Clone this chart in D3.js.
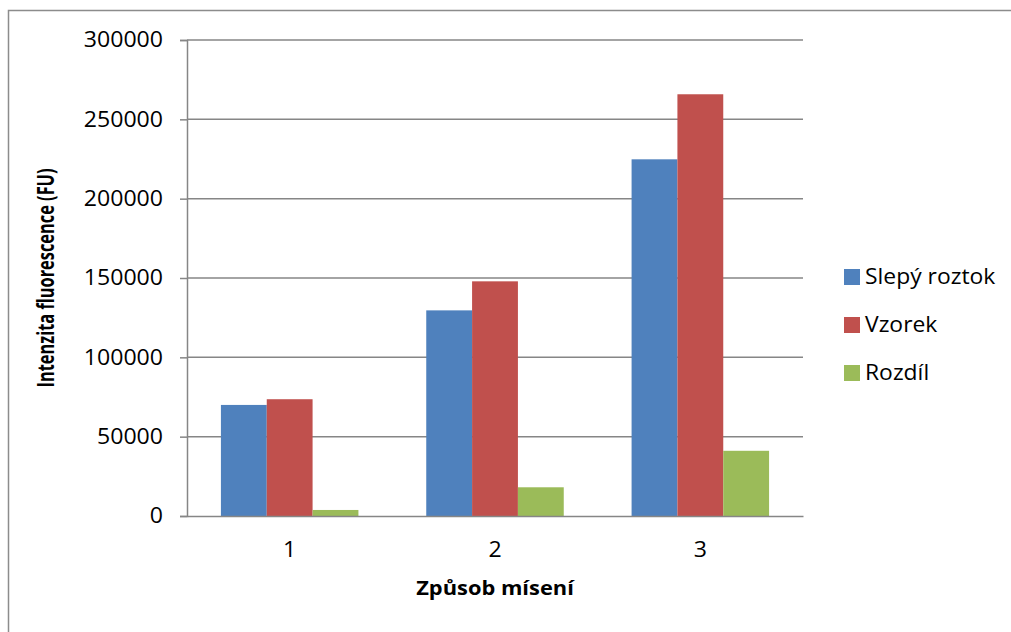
<!DOCTYPE html>
<html>
<head>
<meta charset="utf-8">
<script src="https://cdn.jsdelivr.net/npm/d3@7"></script>
<style>
  html, body { margin: 0; padding: 0; background: #fff; }
  svg { display: block; }
  text { font-family: "Open Sans", "Noto Sans", sans-serif; fill: #000; }
</style>
</head>
<body>
<svg id="chart" width="1011" height="632"></svg>
<script>
// Categories (mixing method) and series values
const categories = ["1", "2", "3"];
const seriesNames = ["Slepý roztok", "Vzorek", "Rozdíl"];
const slepyRoztok = [70000, 129600, 224800];
const vzorek = [73600, 147900, 265800];
const rozdil = [3800, 18100, 41100];
const yTicks = [0, 50000, 100000, 150000, 200000, 250000, 300000];
const colors = ["#4F81BD", "#C0504D", "#9BBB59"];

const seriesValues = [slepyRoztok, vzorek, rozdil];
const rows = categories.map((c, i) => ({
  cat: c,
  values: seriesNames.map((s, j) => ({ series: s, value: seriesValues[j][i], color: colors[j] }))
}));

const svg = d3.select("#chart");
const plot = { left: 187, right: 803, top: 40, bottom: 516 };
const gridColor = "#868686";

// widen glyphs horizontally around each text's anchor point
function stretch(sel, sx, sy) {
  sel.each(function () {
    const t = d3.select(this);
    const x = +t.attr("x") || 0, y = +t.attr("y") || 0;
    t.attr("x", 0).attr("y", 0)
      .attr("transform", `translate(${x},${y}) scale(${sx},${sy})`);
  });
}

// outer chart frame
svg.append("rect")
  .attr("x", 8.5).attr("y", 10.5)
  .attr("width", 1100).attr("height", 700)
  .attr("fill", "none").attr("stroke", "#8c8c8c").attr("stroke-width", 1.5);

const x0 = d3.scaleBand().domain(categories).range([plot.left, plot.right]).padding(0);
const x1 = d3.scaleBand().domain(seriesNames).range([0, x0.bandwidth()]).paddingInner(0).paddingOuter(0.74);
const y = d3.scaleLinear().domain([0, 300000]).range([plot.bottom, plot.top]);

// horizontal gridlines
svg.append("g")
  .selectAll("line")
  .data(yTicks.filter(t => t > 0))
  .join("line")
  .attr("x1", plot.left).attr("x2", plot.right)
  .attr("y1", d => y(d)).attr("y2", d => y(d))
  .attr("stroke", gridColor).attr("stroke-width", 1.5);

// bars
svg.append("g")
  .selectAll("g")
  .data(rows)
  .join("g")
  .attr("transform", d => `translate(${x0(d.cat)},0)`)
  .selectAll("rect")
  .data(d => d.values)
  .join("rect")
  .attr("x", d => x1(d.series))
  .attr("width", x1.bandwidth())
  .attr("y", d => y(d.value))
  .attr("height", d => y(0) - y(d.value))
  .attr("fill", d => d.color);

// y axis
const yAxis = d3.axisLeft(y).tickValues(yTicks).tickSize(7).tickPadding(17).tickFormat(d3.format("d"));
const gy = svg.append("g").attr("transform", `translate(${plot.left},0)`).call(yAxis);
gy.select(".domain").attr("stroke", gridColor).attr("stroke-width", 1.5);
gy.selectAll(".tick line").attr("stroke", gridColor).attr("stroke-width", 1.5);
gy.selectAll(".tick text").style("font-size", "21px").attr("fill", "#000").call(stretch, 1.1, 1);

// x axis
const xAxis = d3.axisBottom(x0).tickSize(0).tickPadding(26);
const gx = svg.append("g").attr("transform", `translate(0,${plot.bottom})`).call(xAxis);
gx.select(".domain").attr("stroke", gridColor).attr("stroke-width", 1.5);
gx.selectAll(".tick text").style("font-size", "21px").attr("fill", "#000").call(stretch, 1.1, 1);

// axis titles
svg.append("text")
  .attr("transform", `translate(54,${(plot.top + plot.bottom) / 2}) rotate(-90) scale(0.84,1.2)`)
  .attr("text-anchor", "middle")
  .style("font-size", "19.5px").style("font-weight", "bold")
  .text("Intenzita fluorescence (FU)");

svg.append("text")
  .attr("transform", `translate(${(plot.left + plot.right) / 2},595) scale(1.15,1)`)
  .attr("text-anchor", "middle")
  .style("font-size", "19px").style("font-weight", "bold")
  .text("Způsob mísení");

// legend
const legend = svg.append("g").attr("transform", "translate(844,277)");
const items = legend.selectAll("g")
  .data(seriesNames)
  .join("g")
  .attr("transform", (d, i) => `translate(0,${i * 48})`);
items.append("rect")
  .attr("x", 0).attr("y", -8).attr("width", 16).attr("height", 16)
  .attr("fill", (d, i) => colors[i]);
items.append("text")
  .attr("transform", "translate(21,0) scale(1.09,1)")
  .attr("dy", "0.35em")
  .style("font-size", "21px")
  .text(d => d);
</script>
</body>
</html>
